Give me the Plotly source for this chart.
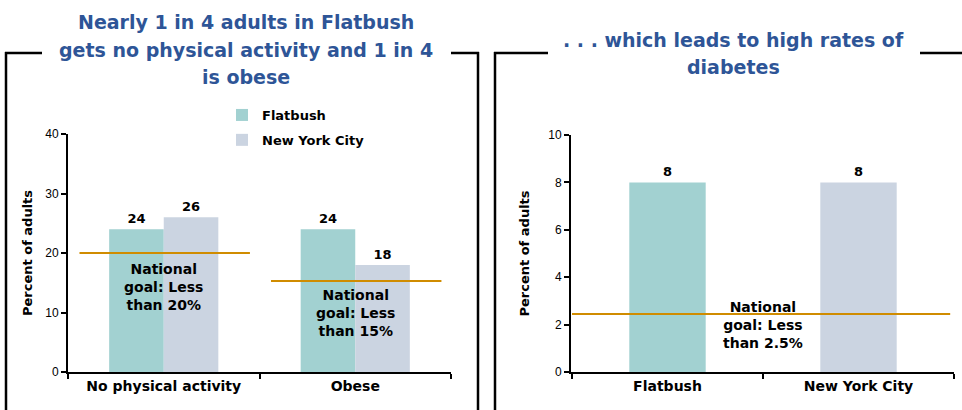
import plotly.graph_objects as go

W, H = 962, 410

# ---- data ----
left_categories = ["No physical activity", "Obese"]
left_flatbush = [24, 24]
left_nyc = [26, 18]
left_goals = [20, 15.3]
left_goal_labels = ["National<br>goal: Less<br>than 20%", "National<br>goal: Less<br>than 15%"]

right_categories = ["Flatbush", "New York City"]
right_values = [8, 8]
right_goal = 2.45
right_goal_label = "National<br>goal: Less<br>than 2.5%"

left_title_lines = ["Nearly 1 in 4 adults in Flatbush", "gets no physical activity and 1 in 4", "is obese"]
right_title_lines = [". . . which leads to high rates of", "diabetes"]
y_title = "Percent of adults"
series_names = ["Flatbush", "New York City"]

# ---- styles ----
C_FLAT = "#A2D1D1"
C_NYC = "#CBD4E1"
C_GOAL = "#D08C00"
C_TITLE = "#2E5597"
FONT = "DejaVu Sans"
TICKFONT = "Liberation Sans"

def px(xp):
    return xp / W

def py(yp):
    return (H - yp) / H

fig = go.Figure()

fig.add_trace(go.Bar(
    x=left_categories, y=left_flatbush, name=f"<b>{series_names[0]}</b>",
    legendgroup="a",
    marker=dict(color=C_FLAT, line=dict(width=0)),
    text=[str(v) for v in left_flatbush], textposition="outside",
    textfont=dict(family=FONT, size=13, color="black"),
    cliponaxis=False, xaxis="x", yaxis="y", hoverinfo="skip",
))
fig.add_trace(go.Bar(
    x=left_categories, y=left_nyc, name=f"<b>{series_names[1]}</b>",
    legendgroup="b",
    marker=dict(color=C_NYC, line=dict(width=0)),
    text=[str(v) for v in left_nyc], textposition="outside",
    textfont=dict(family=FONT, size=13, color="black"),
    cliponaxis=False, xaxis="x", yaxis="y", hoverinfo="skip",
))
fig.add_trace(go.Bar(
    x=right_categories, y=right_values, showlegend=False,
    marker=dict(color=[C_FLAT, C_NYC], line=dict(width=0)),
    text=[str(v) for v in right_values], textposition="outside",
    textfont=dict(family=FONT, size=13, color="black"),
    cliponaxis=False, xaxis="x2", yaxis="y2", hoverinfo="skip", width=0.4,
))

shapes = []
for i, g in enumerate(left_goals):
    shapes.append(dict(type="line", xref="x", yref="y", x0=i - 0.44, x1=i + 0.45,
                       y0=g, y1=g, line=dict(color=C_GOAL, width=2), layer="above"))
shapes.append(dict(type="line", xref="x2", yref="y2", x0=-0.5, x1=1.48,
                   y0=right_goal, y1=right_goal, line=dict(color=C_GOAL, width=2), layer="above"))

def seg(x0, y0, x1, y1):
    return dict(type="line", xref="paper", yref="paper", x0=px(x0), y0=py(y0), x1=px(x1), y1=py(y1),
                line=dict(color="black", width=2.5))

shapes += [
    seg(42, 53, 5, 53), seg(6, 52, 6, 412),
    seg(451, 53, 479, 53), seg(478, 52, 478, 412),
    seg(548, 53, 494, 53), seg(495, 52, 495, 412),
    seg(920, 53, 962, 53),
]

annotations = []
for line, yc in zip(left_title_lines, [22, 50, 77]):
    annotations.append(dict(text=f"<b>{line}</b>", x=px(246), y=py(yc), xref="paper", yref="paper",
                            xanchor="center", yanchor="middle", showarrow=False,
                            font=dict(family=FONT, size=19, color=C_TITLE)))
for line, yc in zip(right_title_lines, [40, 67]):
    annotations.append(dict(text=f"<b>{line}</b>", x=px(733), y=py(yc), xref="paper", yref="paper",
                            xanchor="center", yanchor="middle", showarrow=False,
                            font=dict(family=FONT, size=19, color=C_TITLE)))
for i, g in enumerate(left_goals):
    annotations.append(dict(text=f"<b>{left_goal_labels[i]}</b>", x=i, y=g, xref="x", yref="y",
                            xanchor="center", yanchor="top", yshift=-6 if i == 0 else -4, showarrow=False,
                            font=dict(family=FONT, size=14, color="black"), align="center"))
annotations.append(dict(text=f"<b>{right_goal_label}</b>", x=0.5, y=right_goal, xref="x2", yref="y2",
                        xanchor="center", yanchor="middle", yshift=-11, showarrow=False,
                        font=dict(family=FONT, size=14, color="black"), align="center"))

axis_common = dict(showline=True, linecolor="black", linewidth=2, ticks="outside",
                   ticklen=5, tickcolor="black", tickwidth=1.5, showgrid=False, zeroline=False,
                   automargin=False)

fig.update_layout(
    width=W, height=H,
    margin=dict(l=0, r=0, t=0, b=0, autoexpand=False),
    paper_bgcolor="white", plot_bgcolor="white",
    barmode="group", bargap=0.43, bargroupgap=0,
    font=dict(family=FONT, color="black"),
    xaxis=dict(domain=[px(68), px(451)], anchor="y", tickson="boundaries",
               tickfont=dict(family=FONT, size=14, color="black"), **axis_common),
    yaxis=dict(domain=[py(372), py(134)], anchor="x", range=[0, 40], dtick=10,
               tickfont=dict(family=TICKFONT, size=12, color="black"),
               title=dict(text=f"<b>{y_title}</b>", font=dict(family=FONT, size=13, color="black"), standoff=10),
               **axis_common),
    xaxis2=dict(domain=[px(571), px(954)], anchor="y2", tickson="boundaries",
                tickfont=dict(family=FONT, size=14, color="black"), **axis_common),
    yaxis2=dict(domain=[py(372), py(135)], anchor="x2", range=[0, 10], dtick=2,
                tickfont=dict(family=TICKFONT, size=12, color="black"),
                title=dict(text=f"<b>{y_title}</b>", font=dict(family=FONT, size=13, color="black"), standoff=16),
                **axis_common),
    legend=dict(x=px(222), y=py(100), xanchor="left", yanchor="top",
                font=dict(family=FONT, size=13, color="black"), bgcolor="rgba(0,0,0,0)",
                traceorder="grouped", tracegroupgap=5),
    shapes=shapes,
    annotations=annotations,
)

fig.update_xaxes(ticktext=[f"<b>{c}</b>" for c in left_categories], tickvals=left_categories, selector=dict(anchor="y"))
fig.update_xaxes(ticktext=[f"<b>{c}</b>" for c in right_categories], tickvals=right_categories, selector=dict(anchor="y2"))
fig.update_traces(texttemplate="<b>%{text}</b>")

post = "document.body.style.margin='0';document.body.style.padding='0';"
fig.write_html("out.html", config={"displayModeBar": False}, post_script=post)
